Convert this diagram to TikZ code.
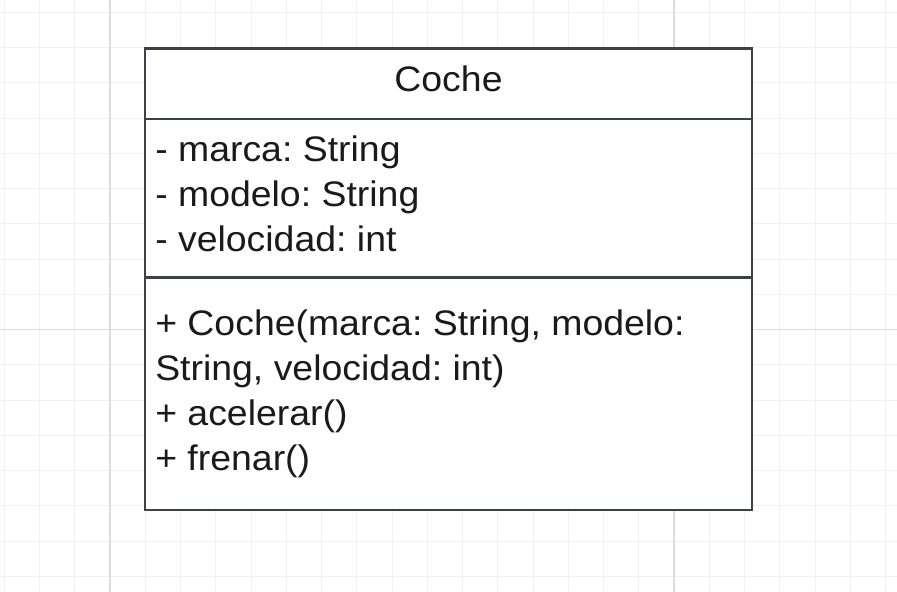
\documentclass[tikz,border=0pt]{standalone}
\usepackage{fontspec}
\setmainfont{Liberation Sans}[FakeStretch=1.055]
\frenchspacing
\definecolor{gridminor}{HTML}{F1F1F1}
\definecolor{gridmajor}{HTML}{DCDCDC}
\definecolor{umlborder}{HTML}{3C4148}
\definecolor{umlink}{HTML}{1A1A1A}
\tikzset{
  umlline/.style={draw=umlborder, line width=2.2pt},
  umlentry/.style={anchor=base west, inner sep=0pt, text=umlink,
    font=\fontsize{26.6}{33.75}\selectfont},
  umltitle/.style={umlentry, anchor=base},
}
\begin{document}
\begin{tikzpicture}[x=0.75pt,y=-0.75pt]
            \useasboundingbox (0,0) rectangle (897,592);
            \fill[white] (0,0) rectangle (897,592);

            % background grid
            \foreach \i in {-3,...,22}
                \draw[gridminor, line width=0.75pt] ({110+\i*35.25},0) -- ({110+\i*35.25},592);
            \foreach \j in {-9,...,7}
                \draw[gridminor, line width=0.75pt] (0,{329.7+\j*35.25}) -- (897,{329.7+\j*35.25});
            \draw[gridmajor, line width=1pt] (110,0) -- (110,592);
            \draw[gridmajor, line width=1pt] (674,0) -- (674,592);
            \draw[gridmajor, line width=1pt] (0,329.7) -- (897,329.7);

            % class box
            \coordinate (nw) at (145,48.5);
            \coordinate (se) at (752,510);
            \fill[white] (nw) rectangle (se);
            \draw[umlline] (145,119) -- (752,119);
            \draw[umlline] (145,277.5) -- (752,277.5);
            \draw[umlline] (nw) rectangle (se);

            \node[umltitle] (title) at (448.5,91.7) {Coche};

            \node[umlentry] (marca) at (155,161.7) {- marca: String};
            \node[umlentry] (modelo) at (155,206.7) {- modelo: String};
            \node[umlentry] (velocidad) at (155,251.7) {- velocidad: int};

            \node[umlentry] (ctor) at (155,335) {+ Coche(marca: String, modelo:};
            \node[umlentry] (ctorb) at (155,380) {String, velocidad: int)};
            \node[umlentry] (acelerar) at (155,425) {+ acelerar()};
            \node[umlentry] (frenar) at (155,470) {+ frenar()};
        \end{tikzpicture}
\end{document}
